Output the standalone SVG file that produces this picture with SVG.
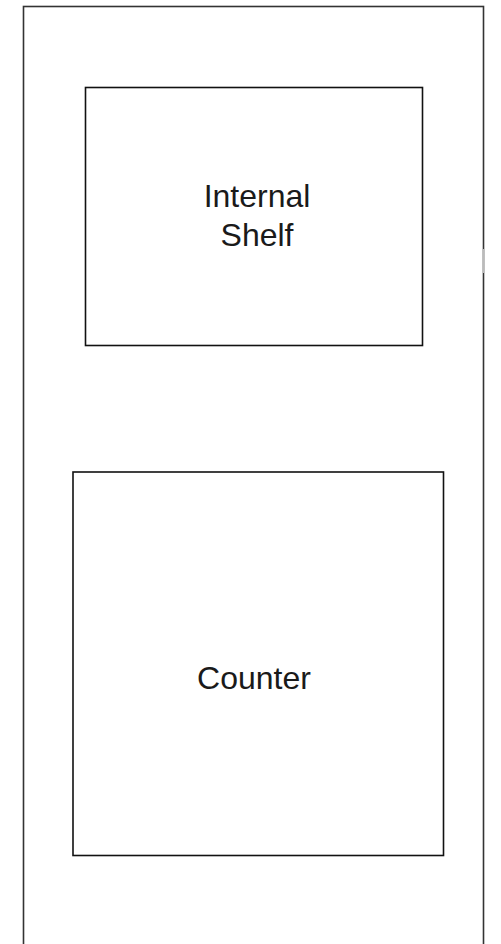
<svg xmlns="http://www.w3.org/2000/svg" width="501" height="944" viewBox="0 0 501 944">
<style>
.box{fill:#fff;stroke:#111;stroke-width:1.6}
.lbl{font-family:"Liberation Sans",Arial,sans-serif;font-size:32px;fill:#1a1a1a;text-anchor:middle}
</style>
<rect x="0" y="0" width="501" height="944" fill="#fff"/>
<g id="room">
<rect x="23.5" y="6.5" width="460" height="950" fill="#fff" stroke="#333" stroke-width="1.6"/>
<line x1="483.5" y1="249" x2="483.5" y2="273" stroke="#bbb" stroke-width="1.6"/>
</g>
<g id="internal-shelf">
<rect class="box" x="85.5" y="87.5" width="337" height="258"/>
<text class="lbl" x="257" y="207">Internal</text>
<text class="lbl" x="257" y="246">Shelf</text>
</g>
<g id="counter">
<rect class="box" x="73" y="472" width="370.5" height="383.5" stroke-width="1.3"/>
<text class="lbl" x="254" y="689">Counter</text>
</g>
<g id="connectors"/>
</svg>
